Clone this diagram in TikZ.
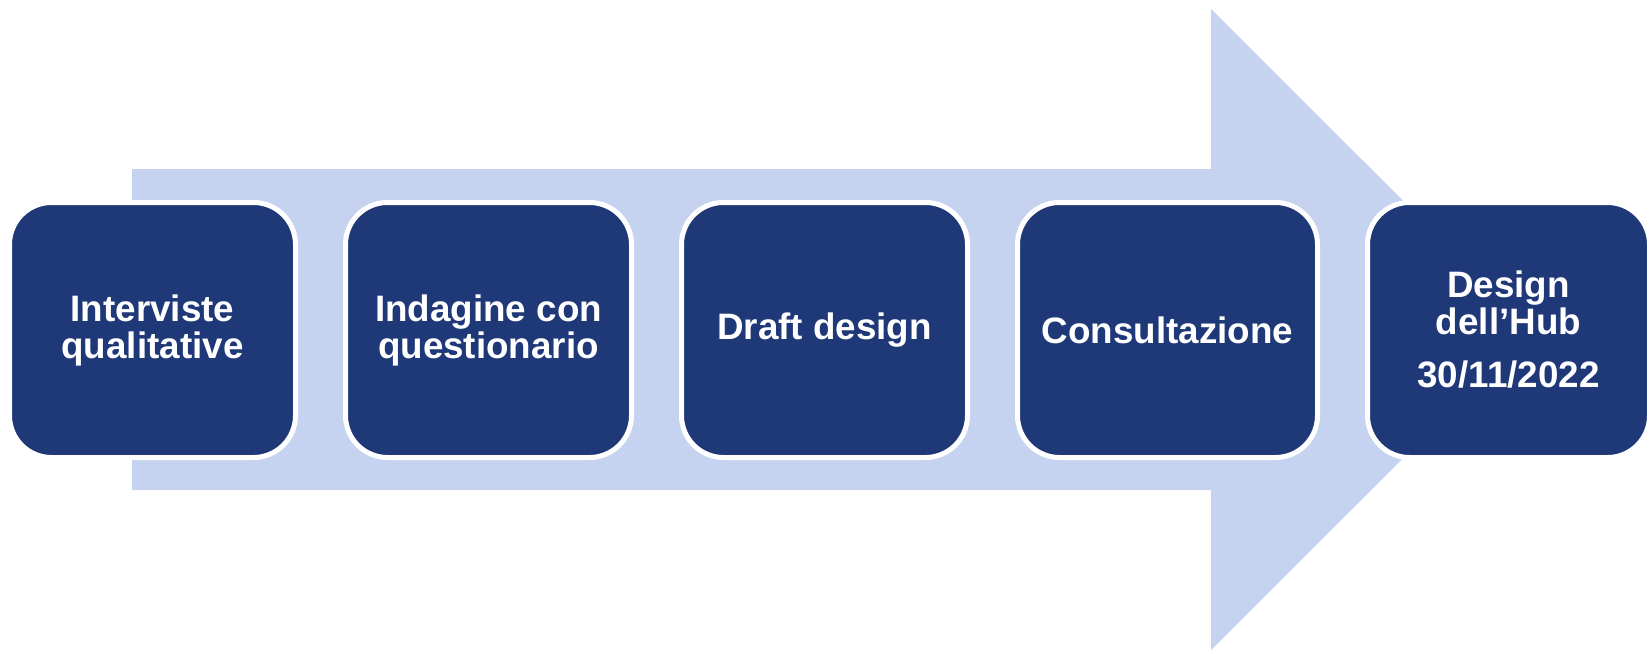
\documentclass[tikz,border=0pt]{standalone}
\usepackage{fontspec}
\setmainfont{Liberation Sans}
\usepackage{tikz}
\usetikzlibrary{positioning}
\definecolor{hubnavy}{RGB}{31,56,120}
\definecolor{hubsky}{RGB}{197,211,241}
\tikzset{
	stepbox/.style = {rectangle, rounded corners=21pt, fill=hubnavy, draw=white,
		line width=2.5pt, outer sep=0pt, inner sep=0pt, align=center, text=white,
		minimum width=143pt, minimum height=127.5pt,
		font=\fontsize{18.4pt}{18.5pt}\selectfont\bfseries},% fase del percorso
	wideparts/.style = {minimum width=150pt},% fase piu larga
	lastbox/.style = {minimum width=141pt}% ultima fase, tagliata a destra
}
\begin{document}
\begin{tikzpicture}[x=0.5pt,y=-0.5pt,node distance=25pt]
\useasboundingbox (0,0) rectangle (1648,649);
% freccia di sfondo
\fill[hubsky] (132,169) -- (1211,169) -- (1211,9) -- (1532,329.5)
	-- (1211,650) -- (1211,490) -- (132,490) -- cycle;
% fasi
\node [stepbox] (interviste) at (152.5,330) {Interviste\\qualitative};
\node [stepbox, right=of interviste] (indagine) {Indagine con\\questionario};
\node [stepbox, right=of indagine] (draft) {Draft design};
\node [stepbox, wideparts, right=of draft] (consultazione) {Consultazione};
\node [stepbox, lastbox, right=of consultazione] (hub) {Design\\dell’Hub\\[8pt]30/11/2022};
\end{tikzpicture}
\end{document}
